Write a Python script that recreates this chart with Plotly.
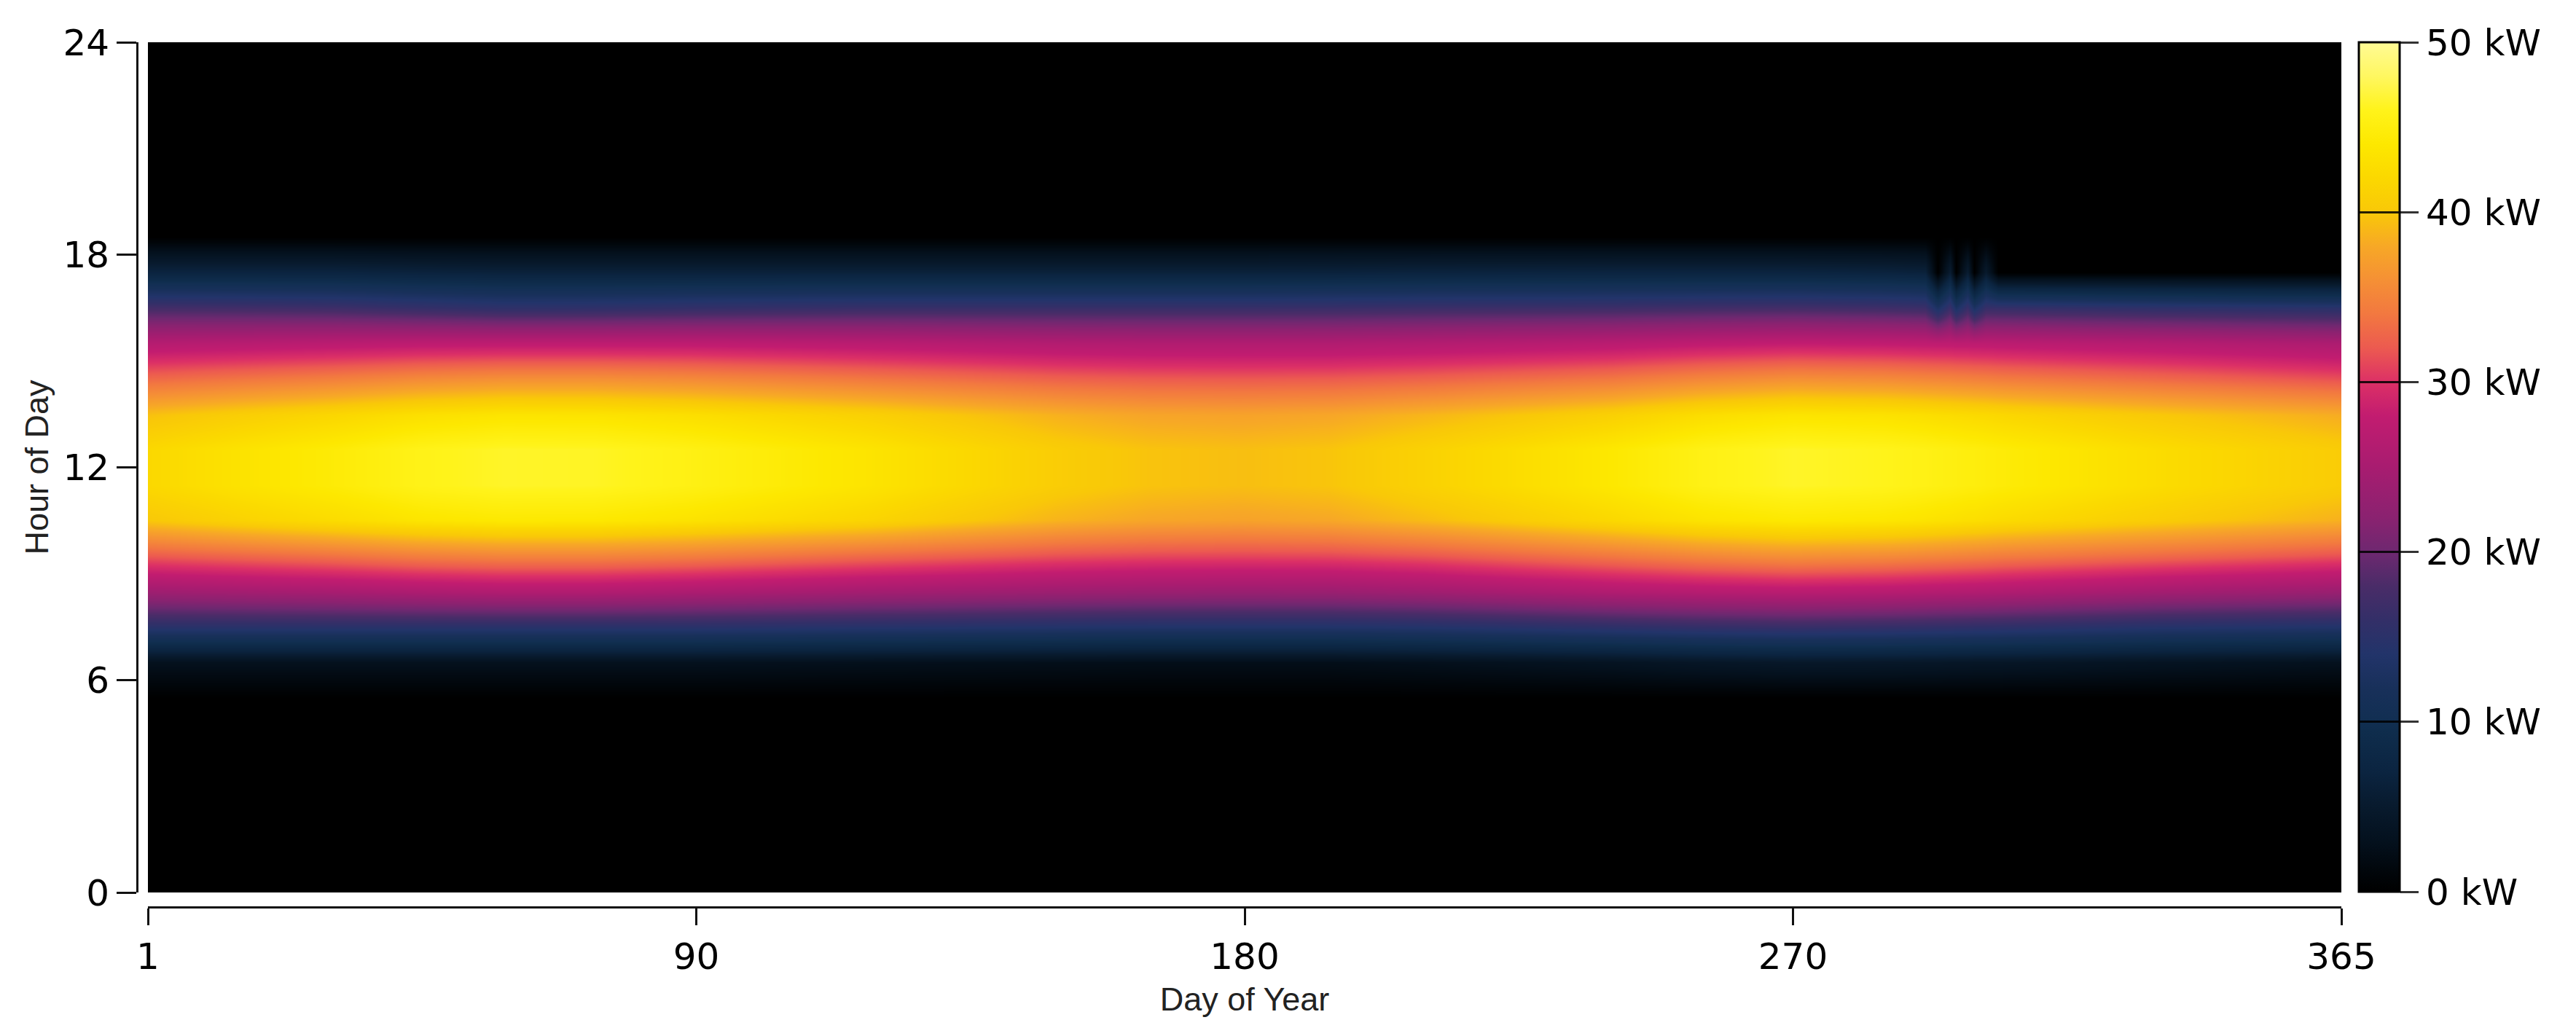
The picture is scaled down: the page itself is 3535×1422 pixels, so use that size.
import plotly.graph_objects as go

# ---------------- data ----------------
day_cols = [1, 16, 32, 46, 60, 75, 91, 121, 152, 167, 182, 197, 213, 244, 259, 274, 289,
            296, 298, 300, 301, 303, 304, 306, 308, 335, 365]
hour_centers = [0.5, 1.5, 2.5, 3.5, 4.5, 5.5, 6.5, 7.5, 8.5, 9.5, 10.5, 11.5,
                12.5, 13.5, 14.5, 15.5, 16.5, 17.5, 18.5, 19.5, 20.5, 21.5, 22.5, 23.5]

# kW per hour-of-day row, one value per day column (hours not listed are 0 kW)
h06 = [3, 3, 3, 3, 3, 3, 3, 2.8, 2.6, 2.5, 2.5, 2.5, 2.8, 3.5, 4.1, 4.5, 4.4,
       4.3, 4.3, 4.2, 4.2, 4.2, 4.1, 4.1, 4.1, 3.5, 3]
h07 = [15, 15, 15, 15, 15, 15, 15, 14.6, 14.2, 14, 14, 14, 14.3, 15.5, 16.1, 16.5, 16.2,
       16, 15.9, 15.9, 15.8, 15.8, 15.7, 15.7, 15.6, 14.5, 14]
h08 = [24, 24.5, 25, 25.6, 26, 26, 25.5, 24.5, 23.8, 23.6, 23.5, 23.6, 24.2, 26, 26.6, 27, 26.7,
       26.4, 26.3, 26.2, 26.2, 26.1, 26.1, 26.0, 25.9, 24.5, 23.5]
h09 = [32, 32.8, 33.6, 34.5, 35, 35, 34.5, 33, 31.5, 31.1, 31, 31.1, 31.8, 34, 35.2, 36, 35.6,
       35.2, 35.1, 35, 34.9, 34.8, 34.7, 34.6, 34.4, 33, 31.5]
h10 = [40, 41.3, 42.5, 43.6, 44.1, 44, 43.3, 41.5, 38.7, 37.8, 37.5, 37.9, 39.2, 42, 43.4, 44.1, 43.8,
       43.4, 43.2, 43.1, 43.0, 42.8, 42.8, 42.6, 42.4, 40.5, 38.5]
h11 = [42, 43.3, 44.5, 45.8, 46.4, 46.3, 45.5, 43.5, 40.6, 39.7, 39.4, 39.8, 41.2, 44, 45.6, 46.4, 46.0,
       45.6, 45.4, 45.3, 45.2, 45.0, 45.0, 44.8, 44.6, 42.5, 40.5]
h12 = [42, 43.3, 44.5, 45.8, 46.4, 46.3, 45.5, 43.5, 40.6, 39.7, 39.4, 39.8, 41.2, 44, 45.6, 46.4, 46.0,
       45.6, 45.4, 45.3, 45.2, 45.0, 45.0, 44.8, 44.6, 42.5, 40.5]
h13 = [39.5, 40.7, 41.8, 42.9, 43.5, 43.4, 42.8, 41, 38.5, 37.7, 37.5, 37.8, 38.8, 41, 42.6, 43.5, 43.2,
       42.8, 42.6, 42.5, 42.4, 42.3, 42.2, 42.1, 41.9, 40, 38.2]
h14 = [33, 33.8, 34.6, 35.5, 36, 36, 35.5, 34, 32.5, 32.1, 32, 32.1, 32.6, 34, 35.2, 36, 35.6,
       35.2, 35.1, 35, 34.9, 34.8, 34.7, 34.6, 34.4, 33, 31.5]
h15 = [26.5, 26.8, 27.1, 27.4, 27.5, 27.5, 27.5, 27, 26.2, 26, 26, 26, 26.3, 27, 27.6, 28, 27.8,
       27.6, 27.5, 27.5, 27.4, 27.4, 27.3, 27.3, 27.2, 26.5, 25.5]
h16 = [17.5, 17.3, 17, 16.2, 15.5, 15.6, 16, 16.5, 16.5, 16.5, 16.5, 16.6, 16.8, 17, 17.3, 17.5, 17.1,
       16.8, 13, 16.6, 13, 16.5, 13, 16.4, 16.3, 15.5, 15]
h17 = [7, 7, 7, 6.7, 6.5, 6.5, 6.5, 6.5, 6.5, 6.5, 6.5, 6.6, 6.8, 7, 7, 7, 6.8,
       6.5, 0, 5.5, 0, 5.5, 0, 5, 0, 0, 0]

x_tick_pos = [1, 92, 183, 274, 365]
x_tick_text = ["1", "90", "180", "270", "365"]
y_tick_vals = [0, 6, 12, 18, 24]
cb_tick_vals = [0, 10, 20, 30, 40, 50]
cb_tick_text = ["0 kW", "10 kW", "20 kW", "30 kW", "40 kW", "50 kW"]

# ---------------- build grid ----------------
rows_by_hour = {6: h06, 7: h07, 8: h08, 9: h09, 10: h10, 11: h11,
                12: h12, 13: h13, 14: h14, 15: h15, 16: h16, 17: h17}
zero_row = [0] * len(day_cols)
z = [rows_by_hour.get(h, zero_row) for h in range(24)]

colorscale = [
    [0.00, "#000000"], [0.02, "#010509"], [0.06, "#04111e"], [0.10, "#081a2d"],
    [0.14, "#0b2440"], [0.19, "#0f2d4d"], [0.205, "#122f53"], [0.24, "#18305a"],
    [0.28, "#22346a"], [0.32, "#332f68"], [0.36, "#4a2c68"], [0.40, "#6e2870"],
    [0.44, "#8a2270"], [0.50, "#a81c70"], [0.56, "#c21c70"], [0.60, "#dc3066"],
    [0.64, "#ec5a50"], [0.68, "#f27840"], [0.72, "#f59035"], [0.76, "#f7a826"],
    [0.80, "#f9c808"], [0.84, "#fbd800"], [0.88, "#fde800"], [0.92, "#fff31a"],
    [0.96, "#fff760"], [1.00, "#fffb95"],
]

W, H = 3535, 1422
ML, MR, MT, MB = 180, 330, 50, 185
PW = W - ML - MR
PH = H - MT - MB

fig = go.Figure()
fig.add_trace(go.Heatmap(
    x=day_cols, y=hour_centers, z=z, coloraxis="coloraxis",
    zsmooth="best", hoverinfo="skip",
))
fig.add_trace(go.Scatter(
    x=[None], y=[None], xaxis="x2", yaxis="y2", mode="markers",
    marker=dict(color=[0], coloraxis="coloraxis2"),
    showlegend=False, hoverinfo="skip",
))

tick_font = dict(family="DejaVu Sans", size=50, color="#000000")
title_font = dict(family="Liberation Sans", size=45, color="#222222")

fig.update_layout(
    width=W, height=H,
    margin=dict(l=ML, r=MR, t=MT, b=MB, autoexpand=False),
    paper_bgcolor="white", plot_bgcolor="white",
    font=tick_font,
    showlegend=False,
    xaxis=dict(domain=[15 / PW, 1], range=[1, 365], visible=False),
    yaxis=dict(domain=[20 / PH, 1], range=[0, 24], visible=False),
    xaxis2=dict(
        overlaying="x", anchor="free", position=0, side="bottom",
        range=[1, 365], showgrid=False, zeroline=False,
        showline=True, linecolor="#111111", linewidth=3,
        ticks="outside", ticklen=23, tickwidth=3, tickcolor="#111111",
        tickvals=x_tick_pos, ticktext=x_tick_text, tickfont=tick_font,
        title=dict(text="Day of Year", font=title_font, standoff=14),
    ),
    yaxis2=dict(
        overlaying="y", anchor="free", position=0, side="left",
        range=[0, 24], showgrid=False, zeroline=False,
        showline=True, linecolor="#111111", linewidth=3,
        ticks="outside", ticklen=27, tickwidth=3, tickcolor="#111111",
        tickvals=y_tick_vals, tickfont=tick_font,
        title=dict(text="Hour of Day", font=title_font, standoff=4),
    ),
    coloraxis=dict(
        cmin=0, cmax=50, colorscale=colorscale,
        colorbar=dict(
            x=(3229 - ML) / PW, xanchor="left", xpad=0,
            y=1, yanchor="top", ypad=0, len=1166 / PH, lenmode="fraction",
            thickness=56, outlinewidth=3, outlinecolor="#000000",
            ticks="outside", ticklen=25, tickwidth=3, tickcolor="#333333",
            tickvals=cb_tick_vals, ticktext=cb_tick_text, tickfont=tick_font,
        ),
    ),
    coloraxis2=dict(
        cmin=0, cmax=50,
        colorscale=[[0, "rgba(0,0,0,0)"], [1, "rgba(0,0,0,0)"]],
        colorbar=dict(
            x=(3229 - ML) / PW, xanchor="left", xpad=0,
            y=1, yanchor="top", ypad=0, len=1166 / PH, lenmode="fraction",
            thickness=56, outlinewidth=0,
            ticks="inside", ticklen=56, tickwidth=3, tickcolor="rgba(0,0,0,0.85)",
            tickvals=[10, 20, 30, 40], showticklabels=False,
        ),
    ),
)

fig.write_html("out.html")
